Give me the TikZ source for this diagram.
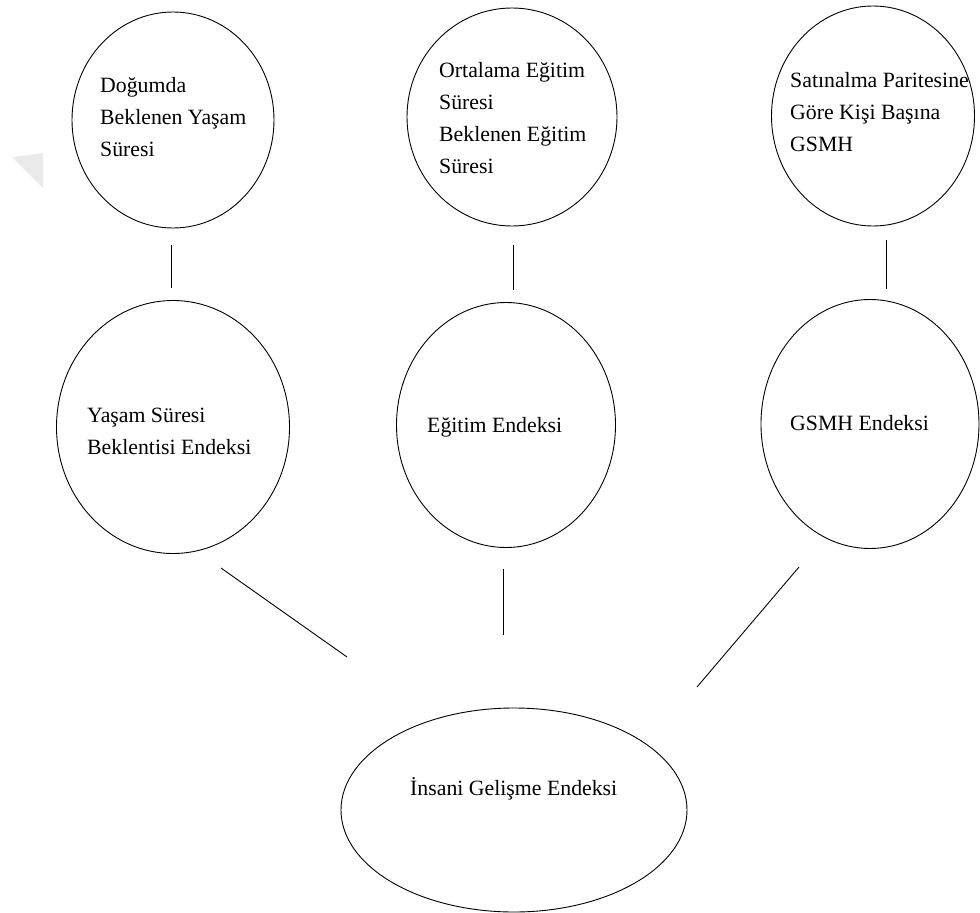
\documentclass[tikz,border=0pt]{standalone}
\usepackage{fontspec}
\setmainfont{Liberation Serif}
\usetikzlibrary{shapes.geometric}
\begin{document}
\begin{tikzpicture}[x=1pt,y=-1pt,
  oval/.style={draw=black,line width=0.9pt,ellipse,inner sep=0pt},
  lbl/.style={anchor=base west,inner sep=0pt,align=left,
    font=\fontsize{21.8}{32}\selectfont},
  link/.style={draw=black,line width=0.9pt}]
\useasboundingbox (0,0) rectangle (980,913);
% faint watermark
\fill[black!8] (12,157) -- (43,153) -- (43,188) -- cycle;
% ovals
\node[oval,minimum width=202pt,minimum height=216pt] (e1) at (173,120) {};
\node[oval,minimum width=210pt,minimum height=218pt] (e2) at (512,117) {};
\node[oval,minimum width=203pt,minimum height=220pt] (e3) at (873,116) {};
\node[oval,minimum width=233pt,minimum height=253pt] (m1) at (173,427) {};
\node[oval,minimum width=219pt,minimum height=245pt] (m2) at (506,425) {};
\node[oval,minimum width=218pt,minimum height=249pt] (m3) at (870,424) {};
\node[oval,minimum width=346pt,minimum height=204pt] (b) at (514,810) {};
% labels (anchor = baseline of last line)
\node[lbl] (t1) at (100,156) {Doğumda\\Beklenen Yaşam\\Süresi};
\node[lbl] (t2) at (439,173) {Ortalama Eğitim\\Süresi\\Beklenen Eğitim\\Süresi};
\node[lbl] (t3) at (790,151) {Satınalma Paritesine\\Göre Kişi Başına\\GSMH};
\node[lbl] (t4) at (87,454) {Yaşam Süresi\\Beklentisi Endeksi};
\node[lbl] (t5) at (427,432) {Eğitim Endeksi};
\node[lbl] (t6) at (790,430) {GSMH Endeksi};
\node[lbl] (t7) at (410,795) {İnsani Gelişme Endeksi};
% connector ends
\coordinate (c1a) at (171,245); \coordinate (c1b) at (171,288);
\coordinate (c2a) at (513,245); \coordinate (c2b) at (513,290);
\coordinate (c3a) at (886,240); \coordinate (c3b) at (886,289);
\coordinate (d1a) at (221,568); \coordinate (d1b) at (347,657);
\coordinate (d2a) at (503,569); \coordinate (d2b) at (503,635);
\coordinate (d3a) at (799,567); \coordinate (d3b) at (697,687);
\draw[link] (c1a) -- (c1b);
\draw[link] (c2a) -- (c2b);
\draw[link] (c3a) -- (c3b);
\draw[link] (d1a) -- (d1b);
\draw[link] (d2a) -- (d2b);
\draw[link] (d3a) -- (d3b);
\end{tikzpicture}
\end{document}
